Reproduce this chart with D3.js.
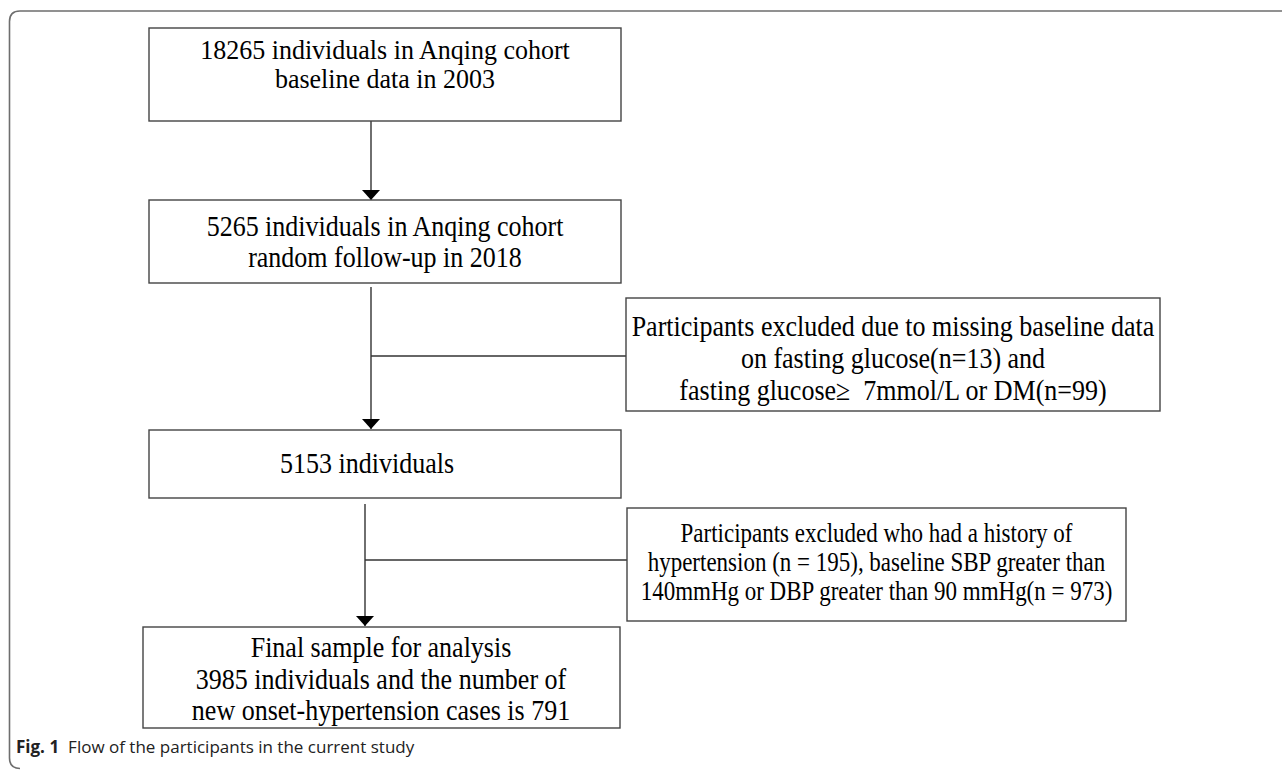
<!DOCTYPE html>
<html lang="en">
<head>
<meta charset="UTF-8" />
<title>Flow of participants</title>
<script src="https://cdnjs.cloudflare.com/ajax/libs/d3/7.8.5/d3.min.js"></script>
<style>
  body { margin: 0; background: #fff; }
</style>
</head>
<body>
<div id="chart"></div>
<script>
// main flow boxes, top to bottom
const mainLabels = [
    ["18265 individuals in Anqing cohort", "baseline data in 2003"],
    ["5265 individuals in Anqing cohort", "random follow-up in 2018"],
    ["5153 individuals"],
    ["Final sample for analysis", "3985 individuals and the number of", "new onset-hypertension cases is 791"]
];
// side boxes with exclusions
const exclLabels = [
    ["Participants excluded due to missing baseline data", "on fasting glucose(n=13) and", "fasting glucose\u2265\u00a0 7mmol/L or DM(n=99)"],
    ["Participants excluded who had a history of", "hypertension (n = 195), baseline SBP greater than", "140mmHg or DBP greater than 90 mmHg(n = 973)"]
];
const captionBold = "Fig. 1";
const captionText = "Flow of the participants in the current study";

const width = 1282, height = 770;
const svg = d3.select("#chart").append("svg")
    .attr("width", width).attr("height", height);

// box geometry; ty = first baseline, lh = line step, sy = vertical text stretch
const mainBoxes = [
    { x0: 149, x1: 621, y0: 28, y1: 121, ty: 59, lh: 29, cx: 385, fs: 26, sy: 1.08 },
    { x0: 149, x1: 621, y0: 200, y1: 283, ty: 236, lh: 31, cx: 385, fs: 26, sy: 1.1 },
    { x0: 149, x1: 621, y0: 430, y1: 498, ty: 473, lh: 30, cx: 367, fs: 26, sy: 1.1 },
    { x0: 143, x1: 620, y0: 627, y1: 728, ty: 657, lh: 31.5, cx: 381, fs: 26, sy: 1.1 }
];
const exclBoxes = [
    { x0: 626, x1: 1160, y0: 298, y1: 411, ty: 336, lh: 32, fs: 26, sy: 1.1,
      branchY: 356, stemX: 371, stemTop: 287, stemBot: 429 },
    { x0: 627, x1: 1126, y0: 508, y1: 621, ty: 542, lh: 29, fs: 23, sy: 1.15,
      branchY: 560, stemX: 365, stemTop: 504, stemBot: 626 }
];

svg.append("defs").append("marker")
    .attr("id", "arrow")
    .attr("viewBox", "0 0 10 18")
    .attr("refX", 10).attr("refY", 9)
    .attr("markerWidth", 10).attr("markerHeight", 18)
    .attr("markerUnits", "userSpaceOnUse")
    .attr("orient", "auto-start-reverse")
    .append("path").attr("d", "M0,0 L0,18 L10,9 Z")
    .attr("fill", "#000");

// outer frame with rounded corners
svg.append("path")
    .attr("d", `M${width + 5},11 L20,11 Q9.5,11 9.5,21.5 L9.5,758 Q9.5,768.5 20,768.5`)
    .attr("fill", "none").attr("stroke", "#6e6e6e").attr("stroke-width", 1.6);

const serif = "'Liberation Serif', 'Times New Roman', serif";

function drawBox(b, lines, cx) {
    svg.append("rect")
        .attr("x", b.x0).attr("y", b.y0)
        .attr("width", b.x1 - b.x0).attr("height", b.y1 - b.y0)
        .attr("fill", "#fff").attr("stroke", "#444").attr("stroke-width", 1.4);
    const sy = b.sy || 1;
    lines.forEach((s, i) => {
        svg.append("text")
            .attr("transform", `translate(${cx},${b.ty + i * b.lh}) scale(1,${sy})`)
            .attr("font-family", serif).attr("font-size", b.fs)
            .attr("text-anchor", "middle").attr("fill", "#000")
            .text(s);
    });
}

svg.append("line")
    .attr("x1", 371).attr("y1", mainBoxes[0].y1)
    .attr("x2", 371).attr("y2", mainBoxes[1].y0)
    .attr("stroke", "#222").attr("stroke-width", 1.3)
    .attr("marker-end", "url(#arrow)");

exclBoxes.forEach(e => {
    svg.append("line")
        .attr("x1", e.stemX).attr("y1", e.stemTop)
        .attr("x2", e.stemX).attr("y2", e.stemBot)
        .attr("stroke", "#222").attr("stroke-width", 1.3)
        .attr("marker-end", "url(#arrow)");
    svg.append("line")
        .attr("x1", e.stemX).attr("y1", e.branchY)
        .attr("x2", e.x0).attr("y2", e.branchY)
        .attr("stroke", "#333").attr("stroke-width", 1.3);
});

mainLabels.forEach((lines, i) => drawBox(mainBoxes[i], lines, mainBoxes[i].cx));
exclLabels.forEach((lines, i) => drawBox(exclBoxes[i], lines, (exclBoxes[i].x0 + exclBoxes[i].x1) / 2));

const cap = svg.append("text")
    .attr("x", 16).attr("y", 753)
    .attr("font-family", "'Open Sans', 'Noto Sans', sans-serif")
    .attr("font-size", 17).attr("fill", "#222");
cap.append("tspan").attr("font-weight", "bold").text(captionBold);
cap.append("tspan").attr("dx", 9).text(captionText);
</script>
</body>
</html>
